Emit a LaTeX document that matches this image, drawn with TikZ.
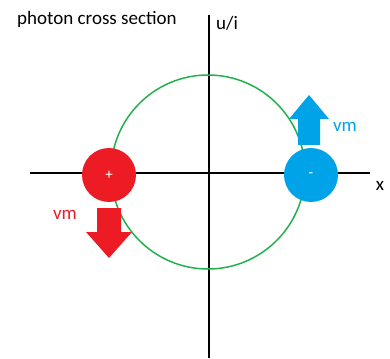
\documentclass[tikz,border=0pt]{standalone}
\usepackage{fontspec}
\setmainfont{Carlito}
\definecolor{pred}{RGB}{237,28,36}
\definecolor{pblue}{RGB}{0,162,232}
\definecolor{pgreen}{RGB}{34,177,76}
\begin{document}
\begin{tikzpicture}[x=1pt,y=-1pt,
  lbl/.style={font=\fontsize{19}{21}\selectfont, inner sep=0pt},
  charge/.style={circle, minimum size=54pt, inner sep=0pt, text=white, font=\fontsize{15}{17}\selectfont}]
\useasboundingbox (0,0) rectangle (390,358);
% axes
\coordinate (xl) at (30,173);
\coordinate (xr) at (370,173);
\coordinate (yt) at (209,15);
\coordinate (yb) at (209,358);
\draw[line width=1.5pt] (xl) -- (xr);
\draw[line width=1.5pt] (yt) -- (yb);
% orbit
\node[circle, draw=pgreen, line width=1.5pt, minimum size=194pt, inner sep=0pt] (orbit) at (208,172) {};
% charges
\node[charge, fill=pred] (plus) at (109,175) {+};
\node[charge, fill=pblue] (minus) at (311,175) {-};
% arrows
\fill[pred] (97,208) -- (121,208) -- (121,232) -- (132,232) -- (109,258) -- (86,232) -- (97,232) -- cycle;
\fill[pblue] (298,145) -- (320,145) -- (320,119) -- (329,119) -- (309,95) -- (289,119) -- (298,119) -- cycle;
% labels
\node[lbl, anchor=west] (title) at (17,19) {photon cross section};
\node[lbl, anchor=west] (ui) at (216,23) {u/i};
\node[lbl, text=pred] (vm1) at (65,215) {vm};
\node[lbl, text=pblue] (vm2) at (345,127) {vm};
\node[lbl] (xlab) at (380,186) {x};
\end{tikzpicture}
\end{document}
